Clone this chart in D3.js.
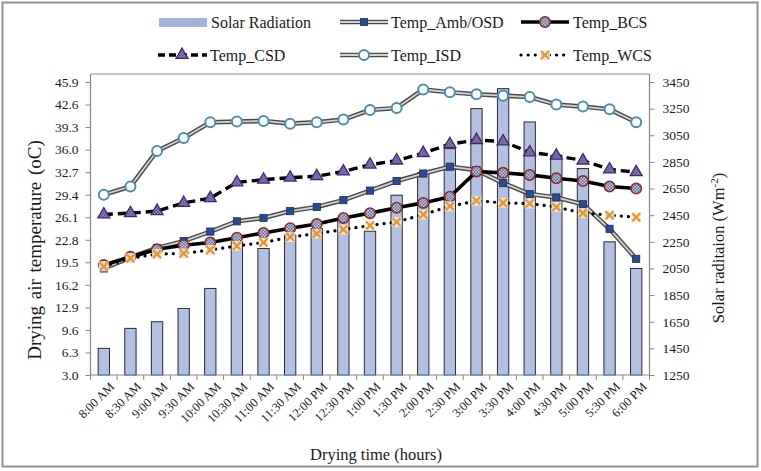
<!DOCTYPE html>
<html><head><meta charset="utf-8">
<script src="https://cdn.jsdelivr.net/npm/d3@7"></script>
<style>
body{margin:0;background:#fff}
svg text{font-family:"Liberation Serif","Times New Roman",serif;fill:#1a1a1a}
</style>
</head><body>
<svg id="c" width="761" height="471"></svg>
<script>
const categories = ["8:00 AM","8:30 AM","9:00 AM","9:30 AM","10:00 AM","10:30 AM","11:00 AM","11:30 AM","12:00 PM","12:30 PM","1:00 PM","1:30 PM","2:00 PM","2:30 PM","3:00 PM","3:30 PM","4:00 PM","4:30 PM","5:00 PM","5:30 PM","6:00 PM"];
const solarRadiation = [1450,1600,1650,1750,1900,2250,2200,2300,2350,2420,2330,2600,2770,2950,3250,3400,3150,2900,2800,2250,2050];
const tempAmbOSD = [18.6,20.2,21.6,22.6,24.0,25.5,26.0,27.0,27.6,28.6,30.0,31.4,32.5,33.5,33.0,31.1,29.5,29.0,28.0,24.4,20.0];
const tempBCS = [19.1,20.3,21.4,22.0,22.4,23.1,23.8,24.5,25.1,26.0,26.7,27.5,28.2,29.1,32.8,32.6,32.3,31.8,31.4,30.6,30.3];
const tempCSD = [26.5,26.7,27.0,28.2,28.9,31.2,31.6,31.9,32.1,32.8,33.8,34.4,35.5,36.8,37.4,37.2,35.6,35.1,34.4,33.1,32.7];
const tempISD = [29.4,30.6,35.8,37.7,40.0,40.1,40.2,39.8,40.0,40.4,41.8,42.1,44.8,44.4,44.1,43.9,43.7,42.6,42.3,41.9,40.0];
const tempWCS = [18.9,20.1,20.7,20.8,21.3,21.9,22.4,23.2,23.7,24.3,24.9,25.4,26.5,27.7,28.5,28.2,28.1,27.6,26.7,26.4,26.1];
const leftTicks = [3.0,6.3,9.6,12.9,16.2,19.5,22.8,26.1,29.4,32.7,36.0,39.3,42.6,45.9];
const rightTicks = [1250,1450,1650,1850,2050,2250,2450,2650,2850,3050,3250,3450];

const FONT = "Liberation Serif";
const svg = d3.select("#c");
const P = {left:90.5, right:649.5, top:74, bottom:375};

const defs = svg.append("defs");
const p1 = defs.append("pattern").attr("id","bcsPat").attr("width",3).attr("height",3).attr("patternUnits","userSpaceOnUse");
p1.append("rect").attr("width",3).attr("height",3).attr("fill","#c4cbe0");
p1.append("rect").attr("width",1.5).attr("height",1.5).attr("fill","#5f6e9e");
p1.append("rect").attr("x",1.5).attr("y",1.5).attr("width",1.5).attr("height",1.5).attr("fill","#5f6e9e");
const p2 = defs.append("pattern").attr("id","csdPat").attr("width",3).attr("height",3).attr("patternUnits","userSpaceOnUse");
p2.append("rect").attr("width",3).attr("height",3).attr("fill","#a898c8");
p2.append("rect").attr("width",1.5).attr("height",1.5).attr("fill","#4b3480");
p2.append("rect").attr("x",1.5).attr("y",1.5).attr("width",1.5).attr("height",1.5).attr("fill","#4b3480");

// outer frame
svg.append("rect").attr("x",2.5).attr("y",2.5).attr("width",755).attr("height",464)
  .attr("fill","none").attr("stroke","#8f8f8f").attr("stroke-width",2);

const x = d3.scaleBand().domain(categories).range([P.left,P.right]).paddingInner(0.575).paddingOuter(0.2875);
const cx = c => x(c) + x.bandwidth()/2;
const yL = d3.scaleLinear().domain([3.0,45.9]).range([375,82]);
const yR = d3.scaleLinear().domain([1250,3450]).range([375,82]);

// plot top border
svg.append("line").attr("x1",P.left).attr("x2",P.right).attr("y1",P.top).attr("y2",P.top).attr("stroke","#8a8a8a").attr("stroke-width",1.2);

// bars
svg.append("g").selectAll("rect").data(solarRadiation).join("rect")
  .attr("x",(d,i)=>x(categories[i]))
  .attr("y",d=>yR(d))
  .attr("width",x.bandwidth())
  .attr("height",d=>yR(1250)-yR(d))
  .attr("fill","#b4c0e1").attr("stroke","#262a3a").attr("stroke-width",1);

// axes
const axisColor = "#878787";
const gL = svg.append("g").attr("transform",`translate(${P.left},0)`)
  .call(d3.axisLeft(yL).tickValues(leftTicks).tickFormat(d3.format(".1f")).tickSize(5).tickSizeOuter(0).tickPadding(7));
const gR = svg.append("g").attr("transform",`translate(${P.right},0)`)
  .call(d3.axisRight(yR).tickValues(rightTicks).tickFormat(d3.format("d")).tickSize(5).tickSizeOuter(0).tickPadding(8));
[gL,gR].forEach(g=>{
  g.attr("font-family",FONT);
  g.select(".domain").remove();
  g.selectAll(".tick line").attr("stroke",axisColor);
  g.selectAll("text").attr("font-family",FONT).style("font-size","13.5px").attr("fill","#1a1a1a");
});
svg.append("line").attr("x1",P.left).attr("x2",P.left).attr("y1",P.top).attr("y2",P.bottom).attr("stroke",axisColor).attr("stroke-width",1.2);
svg.append("line").attr("x1",P.right).attr("x2",P.right).attr("y1",P.top).attr("y2",P.bottom).attr("stroke",axisColor).attr("stroke-width",1.2);
svg.append("line").attr("x1",P.left).attr("x2",P.right).attr("y1",P.bottom).attr("y2",P.bottom).attr("stroke",axisColor).attr("stroke-width",1.2);
// bar bottoms on axis (blue)
svg.append("g").selectAll("line").data(solarRadiation).join("line")
  .attr("x1",(d,i)=>x(categories[i])+1).attr("x2",(d,i)=>x(categories[i])+x.bandwidth()-1)
  .attr("y1",P.bottom).attr("y2",P.bottom).attr("stroke","#5fa3c8").attr("stroke-width",1.5);
// category boundary ticks
const step = x.step();
svg.append("g").selectAll("line").data(d3.range(categories.length+1)).join("line")
  .attr("x1",i=>P.left+i*step).attr("x2",i=>P.left+i*step)
  .attr("y1",P.bottom).attr("y2",P.bottom+5).attr("stroke",axisColor);
// x labels
svg.append("g").selectAll("text").data(categories).join("text")
  .attr("transform",c=>`translate(${cx(c)+5},381) rotate(-45)`)
  .attr("text-anchor","end").attr("dy","0.72em").attr("font-family",FONT)
  .style("font-size","12.5px").text(c=>c);

// lines
const lineGen = arr => d3.line().x((d,i)=>cx(categories[i])).y(d=>yL(d))(arr);
function doubleLine(arr){
  svg.append("path").attr("d",lineGen(arr)).attr("fill","none").attr("stroke","#4a4a4a").attr("stroke-width",4.6).attr("stroke-linejoin","round");
  svg.append("path").attr("d",lineGen(arr)).attr("fill","none").attr("stroke","#d2d2d2").attr("stroke-width",1.8).attr("stroke-linejoin","round");
}
const mk = {
  square:(g,x0,y0)=>g.append("rect").attr("x",x0-3.6).attr("y",y0-3.6).attr("width",7.2).attr("height",7.2).attr("fill","#2c4a8c").attr("stroke","#1c3063").attr("stroke-width",0.8),
  bcs:(g,x0,y0)=>g.append("circle").attr("cx",x0).attr("cy",y0).attr("r",5.2).attr("fill","url(#bcsPat)").attr("stroke","#8c2c2c").attr("stroke-width",1.6),
  tri:(g,x0,y0)=>g.append("path").attr("transform",`translate(${x0},${y0})`).attr("d",d3.symbol(d3.symbolTriangle,62)()).attr("fill","url(#csdPat)").attr("stroke","#3f2a72").attr("stroke-width",1.3),
  open:(g,x0,y0)=>g.append("circle").attr("cx",x0).attr("cy",y0).attr("r",5).attr("fill","#fff").attr("stroke","#4e8cb0").attr("stroke-width",2),
  cross:(g,x0,y0)=>{const s=g.append("g").attr("transform",`translate(${x0},${y0})`);
    s.append("rect").attr("x",-5).attr("y",-5).attr("width",10).attr("height",10).attr("fill","#f5efc9").attr("opacity",0.85);
    s.append("path").attr("d","M-4,-4L4,4M-4,4L4,-4").attr("stroke","#e6923a").attr("stroke-width",2.2);}
};
function markers(arr,type){
  const g = svg.append("g");
  arr.forEach((d,i)=>mk[type](g,cx(categories[i]),yL(d)));
}
doubleLine(tempAmbOSD); markers(tempAmbOSD,"square");
svg.append("path").attr("d",lineGen(tempBCS)).attr("fill","none").attr("stroke","#000").attr("stroke-width",3.6).attr("stroke-linejoin","round");
markers(tempBCS,"bcs");
svg.append("path").attr("d",lineGen(tempCSD)).attr("fill","none").attr("stroke","#000").attr("stroke-width",3.4).attr("stroke-dasharray","9,5");
markers(tempCSD,"tri");
doubleLine(tempISD); markers(tempISD,"open");
svg.append("path").attr("d",lineGen(tempWCS)).attr("fill","none").attr("stroke","#000").attr("stroke-width",3.2).attr("stroke-dasharray","0.1,7").attr("stroke-linecap","round");
markers(tempWCS,"cross");

// titles
svg.append("text").attr("transform","translate(41,250) rotate(-90)").attr("text-anchor","middle").attr("font-family",FONT)
  .style("font-size","19px").style("word-spacing","2px").text("Drying air  temperature (oC)");
const rt = svg.append("text").attr("transform","translate(724,248) rotate(-90)").attr("text-anchor","middle").attr("font-family",FONT).style("font-size","16.5px");
rt.append("tspan").text("Solar raditaion  (Wm");
rt.append("tspan").attr("dy","-6").style("font-size","11px").text("-2");
rt.append("tspan").attr("dy","6").text(")");
svg.append("text").attr("x",376).attr("y",460).attr("text-anchor","middle").attr("font-family",FONT).style("font-size","16.5px").text("Drying time (hours)");

// legend
const lg = svg.append("g").attr("font-family",FONT).style("font-size","16px");
function lgText(x0,y0,t){lg.append("text").attr("x",x0).attr("y",y0+5.5).attr("font-family",FONT).text(t);}
lg.append("rect").attr("x",159).attr("y",18).attr("width",48).attr("height",9).attr("fill","#a4b3dc");
lgText(211,22,"Solar Radiation");
function lgDouble(x1,x2,y0){
  lg.append("line").attr("x1",x1).attr("x2",x2).attr("y1",y0).attr("y2",y0).attr("stroke","#4a4a4a").attr("stroke-width",4.6);
  lg.append("line").attr("x1",x1).attr("x2",x2).attr("y1",y0).attr("y2",y0).attr("stroke","#d2d2d2").attr("stroke-width",1.8);
}
lgDouble(340,388,22); mk.square(lg,364,22); lgText(391,22,"Temp_Amb/OSD");
lg.append("line").attr("x1",521).attr("x2",569).attr("y1",22).attr("y2",22).attr("stroke","#000").attr("stroke-width",3.6);
mk.bcs(lg,545,22); lgText(573,22,"Temp_BCS");
lg.append("line").attr("x1",158).attr("x2",207).attr("y1",55).attr("y2",55).attr("stroke","#000").attr("stroke-width",3.4).attr("stroke-dasharray","7,4");
mk.tri(lg,182,55); lgText(210,55,"Temp_CSD");
lgDouble(340,388,55); mk.open(lg,364,55); lgText(391,55,"Temp_ISD");
lg.append("line").attr("x1",521).attr("x2",569).attr("y1",55).attr("y2",55).attr("stroke","#000").attr("stroke-width",3.2).attr("stroke-dasharray","0.1,7").attr("stroke-linecap","round");
mk.cross(lg,545,55); lgText(573,55,"Temp_WCS");
</script>
</body></html>
